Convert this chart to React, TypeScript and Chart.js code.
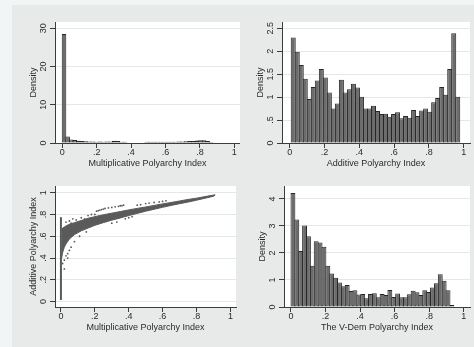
import React, { useEffect, useRef } from 'react';
import { Chart, registerables } from 'chart.js';
Chart.register(...registerables);

// ---------- shared tick labels ----------
const xTickValues = [0, 0.2, 0.4, 0.6, 0.8, 1];
const xTickLabels = ['0', '.2', '.4', '.6', '.8', '1'];

// ---------- panel 1: Multiplicative Polyarchy Index histogram ----------
const multBinStart = 0;
const multBinWidth = 0.02086;
const multDensity = [
  28.5, 1.7, 0.9, 0.8, 0.6, 0.5, 0.45, 0.4, 0.4, 0.35,
  0.4, 0.35, 0.4, 0.4, 0.6, 0.5, 0.35, 0.3, 0.15, 0.15,
  0.15, 0.15, 0.15, 0.3, 0.35, 0.35, 0.35, 0.35, 0.35, 0.35,
  0.35, 0.35, 0.4, 0.4, 0.45, 0.5, 0.55, 0.65, 0.75, 0.7,
  0.5, 0.25,
];
const multYTicks = [0, 10, 20, 30];
const multYLabels = ['0', '10', '20', '30'];

// ---------- panel 2: Additive Polyarchy Index histogram ----------
const addBinStart = 0.009;
const addBinWidth = 0.02305;
const addDensity = [
  2.3, 1.99, 1.7, 1.4, 0.96, 1.22, 1.36, 1.61, 1.43, 1.1,
  0.75, 0.86, 1.38, 1.1, 1.17, 1.29, 1.21, 1.01, 0.75, 0.75,
  0.81, 0.7, 0.63, 0.64, 0.57, 0.63, 0.67, 0.54, 0.59, 0.55,
  0.72, 0.59, 0.71, 0.75, 0.68, 0.89, 0.98, 1.22, 1.05, 1.61,
  2.39, 1.01,
];
const addYTicks = [0, 0.5, 1, 1.5, 2, 2.5];
const addYLabels = ['0', '.5', '1', '1.5', '2', '2.5'];

// ---------- panel 3: scatter Additive vs Multiplicative ----------
const bandX = [0.004, 0.01, 0.02, 0.03, 0.05, 0.08, 0.12, 0.16, 0.2, 0.25, 0.3, 0.35, 0.4, 0.45, 0.5, 0.55, 0.6, 0.65, 0.7, 0.75, 0.8, 0.85, 0.9, 0.91];
const bandUpper = [0.66, 0.675, 0.685, 0.695, 0.71, 0.725, 0.745, 0.765, 0.78, 0.797, 0.812, 0.827, 0.842, 0.856, 0.869, 0.883, 0.897, 0.91, 0.924, 0.938, 0.95, 0.964, 0.978, 0.981];
const bandLower = [0.4, 0.45, 0.5, 0.53, 0.575, 0.615, 0.65, 0.675, 0.7, 0.725, 0.748, 0.768, 0.79, 0.81, 0.83, 0.848, 0.866, 0.883, 0.899, 0.914, 0.931, 0.949, 0.967, 0.977];
const vertLineX = [0, 0];
const vertLineY = [0.015, 0.775];
const outlierX = [0.01, 0.02, 0.03, 0.04, 0.05, 0.06, 0.08, 0.1, 0.12, 0.14, 0.16, 0.18, 0.2, 0.21, 0.22, 0.23, 0.24, 0.25, 0.26, 0.28, 0.3, 0.32, 0.34, 0.35, 0.36, 0.37, 0.3, 0.33, 0.38, 0.4, 0.42, 0.45, 0.47, 0.5, 0.52, 0.55, 0.58, 0.6, 0.62, 0.03, 0.05, 0.07, 0.09, 0.02, 0.04, 0.06, 0.11, 0.15];
const outlierY = [0.35, 0.38, 0.42, 0.44, 0.47, 0.5, 0.55, 0.71, 0.77, 0.76, 0.79, 0.8, 0.8, 0.83, 0.835, 0.84, 0.845, 0.85, 0.855, 0.86, 0.865, 0.87, 0.875, 0.88, 0.88, 0.885, 0.72, 0.73, 0.76, 0.77, 0.78, 0.885, 0.89, 0.9, 0.905, 0.91, 0.915, 0.92, 0.925, 0.73, 0.74, 0.76, 0.75, 0.3, 0.4, 0.72, 0.6, 0.64];
const scatYTicks = [0, 0.2, 0.4, 0.6, 0.8, 1];
const scatYLabels = ['0', '.2', '.4', '.6', '.8', '1'];

// ---------- panel 4: V-Dem Polyarchy Index histogram ----------
const vdemBinStart = 0;
const vdemBinWidth = 0.02245;
const vdemDensity = [
  4.22, 3.24, 2.07, 3.02, 2.62, 1.53, 2.43, 2.39, 2.23, 1.53,
  1.24, 1.08, 0.91, 0.77, 0.81, 0.59, 0.62, 0.46, 0.48, 0.32,
  0.48, 0.51, 0.36, 0.48, 0.44, 0.63, 0.37, 0.5, 0.36, 0.36,
  0.47, 0.6, 0.55, 0.44, 0.62, 0.56, 0.72, 0.88, 1.21, 0.97,
  0.62, 0.07,
];
const vdemYTicks = [0, 1, 2, 3, 4];
const vdemYLabels = ['0', '1', '2', '3', '4'];

// ---------- styling ----------
const FONT = '9px "Liberation Sans", Arial, sans-serif';
const TEXT = '#2a2a2a';
const AXIS = '#3c3c3c';
const GRID = '#e3e7e7';
const BAR_FILL = '#6c6c6c';
const BAR_EDGE = '#262626';
const POINT = '#5a5a5a';

type Panel = {
  canvas: { left: number; top: number; width: number; height: number };
  plot: { left: number; top: number; right: number; bottom: number };
  xRange: [number, number];
  yRange: [number, number];
  yTicks: number[];
  yLabels: string[];
  xTitle: string;
  yTitle: string;
};

function histData(start: number, width: number, vals: number[]) {
  return vals.map((v, i) => ({ x: start + width * (i + 0.5), y: v }));
}

function makeOptions(p: Panel) {
  const padTop = p.plot.top - p.canvas.top;
  const padRight = p.canvas.left + p.canvas.width - p.plot.right;
  const yW = p.plot.left - p.canvas.left;
  const xH = p.canvas.top + p.canvas.height - p.plot.bottom;
  return {
    responsive: false,
    animation: false as const,
    events: [],
    layout: { padding: { left: 0, top: padTop, right: padRight, bottom: 0 } },
    plugins: { legend: { display: false }, tooltip: { enabled: false } },
    scales: {
      x: {
        type: 'linear' as const,
        min: p.xRange[0],
        max: p.xRange[1],
        offset: false,
        afterBuildTicks: (s: any) => { s.ticks = xTickValues.map((v) => ({ value: v })); },
        afterFit: (s: any) => { s.height = xH; },
        ticks: { display: false },
        grid: { drawOnChartArea: false, drawTicks: true, tickLength: 5, tickColor: AXIS, offset: false },
        border: { display: true, color: AXIS, width: 1 },
      },
      y: {
        type: 'linear' as const,
        min: p.yRange[0],
        max: p.yRange[1],
        afterBuildTicks: (s: any) => { s.ticks = p.yTicks.map((v) => ({ value: v })); },
        afterFit: (s: any) => { s.width = yW; },
        ticks: { display: false },
        grid: {
          color: (c: any) => (c.tick && c.tick.value === p.yRange[0] ? 'rgba(0,0,0,0)' : GRID),
          drawTicks: true,
          tickLength: 5,
          tickColor: AXIS,
        },
        border: { display: true, color: AXIS, width: 1 },
      },
    },
  };
}

function labelPlugin(p: Panel) {
  return {
    id: 'stataLabels',
    beforeDraw(chart: any) {
      const a = chart.chartArea;
      const ctx = chart.ctx;
      ctx.save();
      ctx.fillStyle = '#ffffff';
      ctx.fillRect(a.left, a.top, a.right - a.left, a.bottom - a.top);
      ctx.restore();
    },
    afterDraw(chart: any) {
      const a = chart.chartArea;
      const ctx = chart.ctx;
      const xs = chart.scales.x;
      const ys = chart.scales.y;
      ctx.save();
      ctx.font = FONT;
      ctx.fillStyle = TEXT;
      ctx.textAlign = 'center';
      ctx.textBaseline = 'middle';
      xTickValues.forEach((v, i) => {
        ctx.fillText(xTickLabels[i], xs.getPixelForValue(v), a.bottom + 10);
      });
      ctx.fillText(p.xTitle, (a.left + a.right) / 2, a.bottom + 20.5);
      p.yTicks.forEach((v, i) => {
        ctx.save();
        ctx.translate(a.left - 11.5, ys.getPixelForValue(v));
        ctx.rotate(-Math.PI / 2);
        ctx.fillText(p.yLabels[i], 0, 0);
        ctx.restore();
      });
      ctx.save();
      ctx.translate(a.left - 21.5, (a.top + a.bottom) / 2);
      ctx.rotate(-Math.PI / 2);
      ctx.fillText(p.yTitle, 0, 0);
      ctx.restore();
      ctx.restore();
    },
  };
}

const panels: Record<string, Panel> = {
  mult: {
    canvas: { left: 12, top: 5, width: 228, height: 167 },
    plot: { left: 55, top: 22, right: 240, bottom: 143 },
    xRange: [-0.042, 1.033],
    yRange: [0, 31.65],
    yTicks: multYTicks,
    yLabels: multYLabels,
    xTitle: 'Multiplicative Polyarchy Index',
    yTitle: 'Density',
  },
  add: {
    canvas: { left: 240, top: 5, width: 234, height: 167 },
    plot: { left: 282, top: 22, right: 470, bottom: 143 },
    xRange: [-0.044, 1.036],
    yRange: [0, 2.637],
    yTicks: addYTicks,
    yLabels: addYLabels,
    xTitle: 'Additive Polyarchy Index',
    yTitle: 'Density',
  },
  scat: {
    canvas: { left: 12, top: 172, width: 228, height: 175 },
    plot: { left: 55, top: 186, right: 240, bottom: 307 },
    xRange: [-0.035, 1.033],
    yRange: [-0.0496, 1.0615],
    yTicks: scatYTicks,
    yLabels: scatYLabels,
    xTitle: 'Multiplicative Polyarchy Index',
    yTitle: 'Additive Polyarchy Index',
  },
  vdem: {
    canvas: { left: 240, top: 172, width: 234, height: 175 },
    plot: { left: 284, top: 186, right: 470, bottom: 307 },
    xRange: [-0.0405, 1.0365],
    yRange: [0, 4.48],
    yTicks: vdemYTicks,
    yLabels: vdemYLabels,
    xTitle: 'The V-Dem Polyarchy Index',
    yTitle: 'Density',
  },
};

function histConfig(p: Panel, start: number, width: number, vals: number[]) {
  const plotW = p.plot.right - p.plot.left;
  const binPx = (width * plotW) / (p.xRange[1] - p.xRange[0]);
  return {
    type: 'bar' as const,
    data: {
      datasets: [
        {
          data: histData(start, width, vals),
          backgroundColor: BAR_FILL,
          borderColor: BAR_EDGE,
          borderWidth: 1,
          borderSkipped: false,
          barPercentage: (binPx + 1) / binPx,
          categoryPercentage: 1,
        },
      ],
    },
    options: makeOptions(p),
    plugins: [labelPlugin(p)],
  };
}

function scatterConfig(p: Panel) {
  const pts = (xs: number[], ys: number[]) => xs.map((x, i) => ({ x, y: ys[i] }));
  return {
    type: 'scatter' as const,
    data: {
      datasets: [
        {
          type: 'line' as const,
          data: pts(bandX, bandLower),
          borderColor: POINT,
          borderWidth: 1,
          pointRadius: 0,
          fill: false,
          tension: 0,
        },
        {
          type: 'line' as const,
          data: pts(bandX, bandUpper),
          borderColor: POINT,
          backgroundColor: POINT,
          borderWidth: 1,
          pointRadius: 0,
          fill: '-1',
          tension: 0,
        },
        {
          type: 'line' as const,
          data: pts(vertLineX, vertLineY),
          borderColor: POINT,
          borderWidth: 2,
          pointRadius: 0,
          fill: false,
        },
        {
          data: pts(outlierX, outlierY),
          backgroundColor: POINT,
          borderColor: POINT,
          borderWidth: 0,
          pointRadius: 0.9,
        },
      ],
    },
    options: makeOptions(p),
    plugins: [labelPlugin(p)],
  };
}

function ChartCanvas({ panel, config }: { panel: Panel; config: any }) {
  const ref = useRef<HTMLCanvasElement | null>(null);
  useEffect(() => {
    if (!ref.current) return;
    const chart = new Chart(ref.current, config);
    return () => chart.destroy();
  }, []);
  const c = panel.canvas;
  return (
    <canvas
      ref={ref}
      width={c.width}
      height={c.height}
      style={{ position: 'absolute', left: c.left, top: c.top, width: c.width, height: c.height }}
    />
  );
}

export default function App() {
  return (
    <div style={{ position: 'fixed', left: 0, top: 0, width: 474, height: 347, background: '#f2f5f5', overflow: 'hidden' }}>
      <div style={{ position: 'absolute', left: 12, top: 5, right: 0, bottom: 0, background: '#e8eaea' }} />
      <ChartCanvas panel={panels.mult} config={histConfig(panels.mult, multBinStart, multBinWidth, multDensity)} />
      <ChartCanvas panel={panels.add} config={histConfig(panels.add, addBinStart, addBinWidth, addDensity)} />
      <ChartCanvas panel={panels.scat} config={scatterConfig(panels.scat)} />
      <ChartCanvas panel={panels.vdem} config={histConfig(panels.vdem, vdemBinStart, vdemBinWidth, vdemDensity)} />
    </div>
  );
}
